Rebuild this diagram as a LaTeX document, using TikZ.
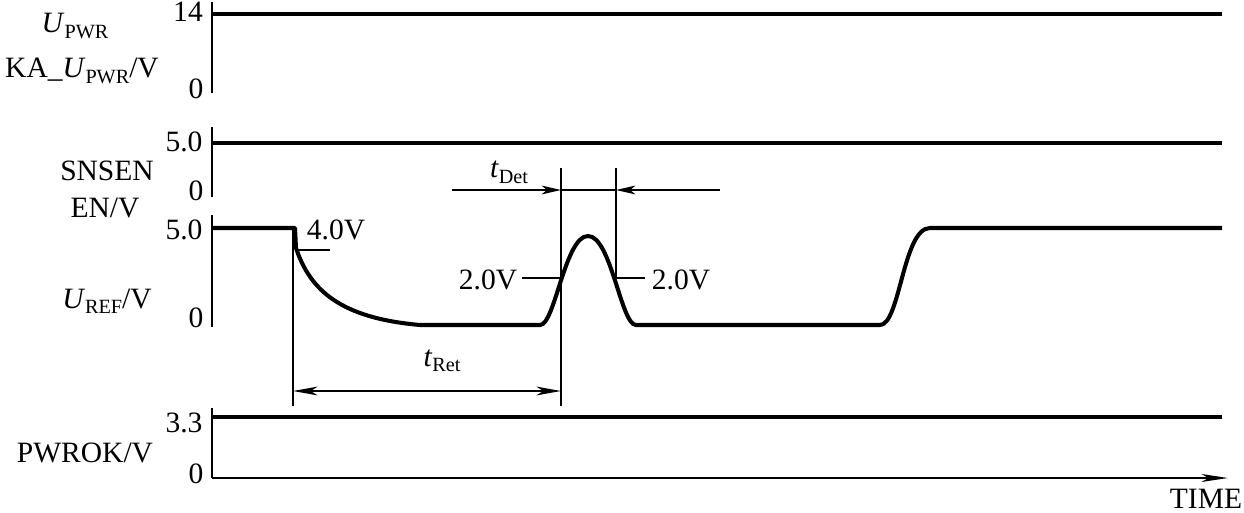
\documentclass[tikz,border=0pt]{standalone}
\usepackage{fontspec}
\setmainfont{Liberation Serif}
\usetikzlibrary{arrows.meta}
\newcommand\subs[1]{\raisebox{-0.2em}{\fontsize{11.5}{12}\selectfont #1}}
\tikzset{
  sig/.style={line width=2.3pt, line join=round},
  axisline/.style={line width=1.6pt},
  thinline/.style={line width=1.1pt},
  lbl/.style={inner sep=0pt, anchor=base, font=\fontsize{16.8}{18}\selectfont},
  tipa/.style={-{Stealth[length=11pt,width=5pt,inset=3pt]}},
  tipb/.style={{Stealth[length=14pt,width=5pt,inset=4pt]}-{Stealth[length=14pt,width=5pt,inset=4pt]}},
  tipc/.style={-{Stealth[length=15pt,width=4.5pt,inset=4pt]}}
}
\begin{document}
\begin{tikzpicture}[x=0.02cm,y=-0.02cm]
\useasboundingbox (0,0) rectangle (1244,513);
% ---------- panel 1
\coordinate (a1t) at (212,2);   \coordinate (a1b) at (212,93);
\coordinate (s1a) at (212,14);  \coordinate (s1b) at (1222,14);
\draw[axisline] (a1t) -- (a1b);
\draw[sig] (s1a) -- (s1b);
\node[lbl] (l14) at (188,22) {14};
\node[lbl] (l0a) at (196,99) {0};
\node[lbl] (lupwr) at (75,33) {\textit{U}\subs{PWR}};
\node[lbl] (lka) at (82,78) {KA\_\textit{U}\subs{PWR}/V};
% ---------- panel 2
\coordinate (a2t) at (212,127); \coordinate (a2b) at (212,197);
\coordinate (s2a) at (212,143); \coordinate (s2b) at (1222,143);
\draw[axisline] (a2t) -- (a2b);
\draw[sig] (s2a) -- (s2b);
\node[lbl] (l50a) at (184,152) {5.0};
\node[lbl] (l0b) at (196,201) {0};
\node[lbl] (lsn) at (107,181) {SNSEN};
\node[lbl] (len) at (105,218) {EN/V};
% ---------- panel 3
\coordinate (a3t) at (212,215); \coordinate (a3b) at (212,327);
\draw[axisline] (a3t) -- (a3b);
\draw[sig] (212,228) -- (295,228) -- (296,248)
   .. controls (310,290) and (340,318) .. (420,325) -- (540,325)
   .. controls (555,325) and (565,236) .. (588,236)
   .. controls (611,236) and (621,325) .. (636,325) -- (880,325)
   .. controls (900,325) and (903,228) .. (930,228) -- (1222,228);
\node[lbl] (l50b) at (184,240) {5.0};
\node[lbl] (l0c) at (196,327) {0};
\node[lbl] (luref) at (107,308) {\textit{U}\subs{REF}/V};
% markers
\coordinate (m1t) at (293,228); \coordinate (m1b) at (293,406);
\coordinate (m2t) at (561,168); \coordinate (m2b) at (561,406);
\coordinate (m3t) at (616,168); \coordinate (m3b) at (616,278);
\draw[thinline] (m1t) -- (m1b);
\draw[thinline] (m2t) -- (m2b);
\draw[thinline] (m3t) -- (m3b);
% 4.0V
\coordinate (v4a) at (296,250); \coordinate (v4b) at (330,250);
\draw[thinline] (v4a) -- (v4b);
\node[lbl] (l40) at (336,240) {4.0V};
% 2.0V
\coordinate (v2a) at (522,278); \coordinate (v2b) at (561,278);
\coordinate (v2c) at (616,278); \coordinate (v2d) at (645,278);
\draw[thinline] (v2a) -- (v2b);
\draw[thinline] (v2c) -- (v2d);
\node[lbl] (l20a) at (488,290) {2.0V};
\node[lbl] (l20b) at (681,290) {2.0V};
% tDet
\coordinate (d0) at (452,190); \coordinate (d1) at (561,190);
\coordinate (d2) at (616,190); \coordinate (d3) at (720,190);
\draw[thinline,tipa] (d0) -- (d1);
\draw[thinline] (d1) -- (d2);
\draw[thinline,tipa] (d3) -- (d2);
\node[lbl] (ltdet) at (509,178) {\textit{t}\subs{Det}};
% tRet
\coordinate (r0) at (293,391); \coordinate (r1) at (561,391);
\draw[thinline,tipb] (r0) -- (r1);
\node[lbl] (ltret) at (442,366) {\textit{t}\subs{Ret}};
% ---------- panel 4
\coordinate (a4t) at (212,408); \coordinate (a4b) at (212,478);
\coordinate (s4a) at (212,417); \coordinate (s4b) at (1222,417);
\coordinate (te) at (1228,478);
\draw[axisline] (a4t) -- (a4b);
\draw[sig] (s4a) -- (s4b);
\draw[axisline,tipc] (a4b) -- (te);
\node[lbl] (l33) at (184,432) {3.3};
\node[lbl] (l0d) at (196,483) {0};
\node[lbl] (lpw) at (85,462) {PWROK/V};
\node[lbl] (ltime) at (1206,508) {TIME};
\end{tikzpicture}
\end{document}
